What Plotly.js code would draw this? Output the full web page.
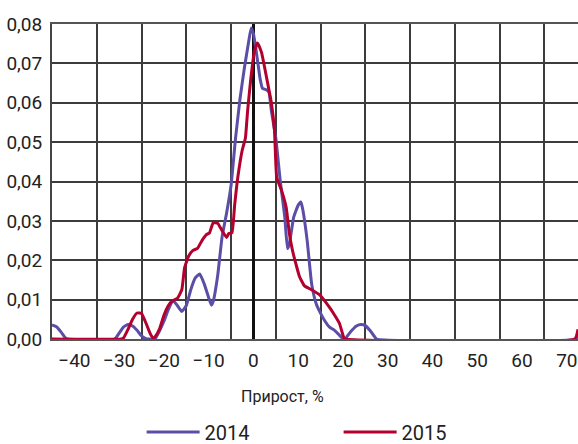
<!DOCTYPE html>
<html>
<head>
<meta charset="utf-8">
<script src="https://cdn.plot.ly/plotly-3.0.1.min.js"></script>
<style>html,body{margin:0;padding:0;background:#fff;}#chart{width:578px;height:444px;}</style>
</head>
<body>
<div id="chart"></div>
<script>
// Growth, % (x) and density (y)
const x2014 = [-45,-44,-43,-42,-41.5,-31,-30,-29,-28,-27,-26,-25,-24,-23,-22,-21,-20,-19,-18,-17,-16,-15,-14,-13,-12,-11,-10,-9.4,-9,-8,-7,-6,-5,-4,-3,-2,-1,-0.5,0,0.5,1,1.5,2,3,3.5,4,5,6,7,7.6,8,9,10,10.6,11,12,13,14,15,16,17,18,19,20,20.5,21,22,23,24,25,26,27,27.5,72,72.5];
const y2014 = [0.0036,0.0031,0.0018,0.0003,0,0,0.0015,0.0031,0.0037,0.0033,0.0022,0.0008,0.0001,0,0,0.002,0.0045,0.0075,0.0098,0.0085,0.007,0.0085,0.0125,0.0155,0.0165,0.014,0.0105,0.0086,0.0095,0.016,0.026,0.032,0.039,0.051,0.061,0.069,0.076,0.079,0.0775,0.074,0.070,0.066,0.0637,0.0632,0.0625,0.058,0.051,0.040,0.031,0.023,0.024,0.031,0.034,0.0348,0.033,0.025,0.014,0.009,0.0065,0.0045,0.003,0.0023,0.0012,0.0001,0,0.0008,0.0022,0.0033,0.0037,0.0034,0.0022,0.0007,0,0,0.001];
const x2015 = [-45,-29.5,-29,-28,-27,-26,-25,-24,-23,-22.3,-22,-21,-20,-19,-18,-17,-16,-15.4,-14.5,-13.5,-12.5,-11.5,-10.5,-9.8,-9,-8,-7,-6,-5.5,-4.8,-4.2,-3.5,-2.5,-1.8,-1.3,-0.6,0.2,0.9,1.8,3,4,4.7,5.2,6.2,7.3,8,8.7,9.5,10.3,11.4,13,14.8,16.3,17.3,18.1,19.2,20.2,20.5,71.8,72.5];
const y2015 = [0,0,0.0003,0.0025,0.005,0.0066,0.0065,0.004,0.0012,0.0002,0.0005,0.0025,0.006,0.0085,0.0098,0.0103,0.0125,0.018,0.021,0.0225,0.023,0.025,0.0265,0.027,0.0295,0.0294,0.0275,0.0258,0.0268,0.027,0.034,0.041,0.048,0.051,0.058,0.066,0.073,0.0752,0.0728,0.066,0.060,0.053,0.041,0.038,0.0335,0.027,0.0226,0.019,0.0158,0.0135,0.0125,0.0112,0.0091,0.0075,0.0061,0.004,0.0003,0,0,0.0025];
const seriesNames = ['2014','2015'];
const gridTicks = [-45,-35,-25,-15,-5,5,15,25,35,45,55,65];
const labelTicks = [-40,-30,-20,-10,0,10,20,30,40,50,60,70];
const yTicks = [0,0.01,0.02,0.03,0.04,0.05,0.06,0.07,0.08];

const FONT = 'Roboto, "Liberation Sans", sans-serif';
const traces = [
  {x:x2014, y:y2014, name:seriesNames[0], mode:'lines', type:'scatter',
   line:{color:'#5a4ea6', width:3, shape:'spline', smoothing:0.4}},
  {x:x2015, y:y2015, name:seriesNames[1], mode:'lines', type:'scatter',
   line:{color:'#b3002e', width:3, shape:'spline', smoothing:0.4}},
  {x:[], y:[], xaxis:'x2', showlegend:false, hoverinfo:'skip'}
];
const layout = {
  width:578, height:444,
  margin:{l:52, r:0, t:24, b:105, autoexpand:false},
  paper_bgcolor:'#fff', plot_bgcolor:'#fff',
  separators:', ',
  font:{family:FONT, color:'#222', size:19},
  showlegend:true,
  xaxis:{range:[-45,72.5], tickmode:'array', tickvals:gridTicks, showticklabels:false,
         showgrid:true, gridcolor:'#3c3c3c', gridwidth:2,
         zeroline:true, zerolinecolor:'#111', zerolinewidth:2.5,
         showline:true, linecolor:'#555', linewidth:2, mirror:true, ticks:''},
  xaxis2:{range:[-45,72.5], overlaying:'x', matches:'x', anchor:'y', side:'bottom',
          tickmode:'array', tickvals:labelTicks, showgrid:false, zeroline:false,
          ticks:'outside', ticklen:4, tickcolor:'rgba(0,0,0,0)', ticklabeloverflow:'allow',
          tickfont:{family:FONT, size:19, color:'#222'}},
  yaxis:{range:[0,0.08], tickmode:'array', tickvals:yTicks, tickformat:'.2f',
         showgrid:true, gridcolor:'#3c3c3c', gridwidth:2,
         zeroline:true, zerolinecolor:'#111', zerolinewidth:2.5,
         showline:true, linecolor:'#444', linewidth:2,
         ticks:'outside', ticklen:4, tickcolor:'rgba(0,0,0,0)',
         tickfont:{family:FONT, size:19, color:'#222'}},
  legend:{orientation:'h', xref:'container', yref:'container', x:0.245, xanchor:'left',
          y:0.027, yanchor:'middle',
          font:{family:FONT, size:20, color:'#222'}, itemwidth:53,
          entrywidth:129, entrywidthmode:'pixels', bgcolor:'rgba(0,0,0,0)'},
  annotations:[{text:'Прирост, %', xref:'paper', yref:'paper', x:0.439, y:-0.181,
                xanchor:'center', yanchor:'middle', showarrow:false,
                font:{family:FONT, size:16, color:'#222'}}]
};
Plotly.newPlot('chart', traces, layout, {displayModeBar:false, staticPlot:true});
</script>
</body>
</html>
